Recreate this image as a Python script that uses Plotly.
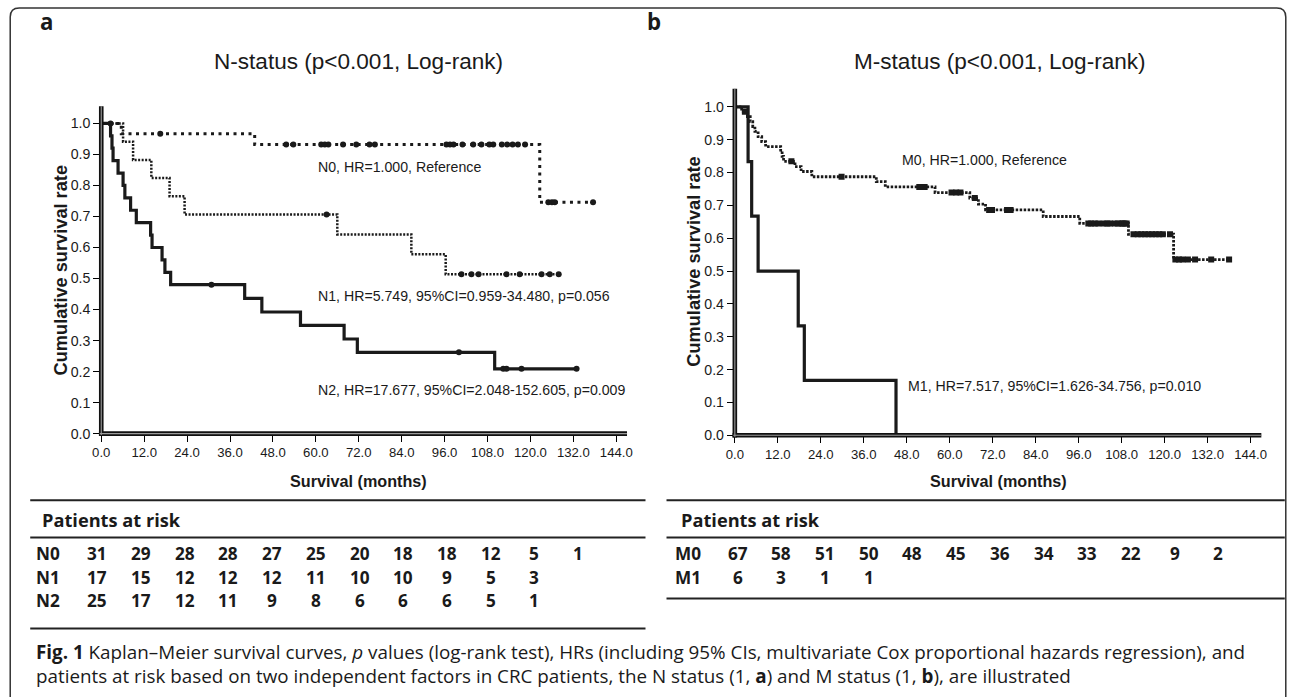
import numpy as np
import plotly.graph_objects as go

# The photographed viewport is slightly taller than the requested picture,
# so build the page at that size and place everything in reference pixels.
OUT_W, OUT_H = 1292, 697
W, H = 1292, 705
SC = OUT_H / 705.5
PAD = (OUT_W - OUT_W * SC) / 2

# ---------------- data ----------------
month_ticks = [0, 12, 24, 36, 48, 60, 72, 84, 96, 108, 120, 132, 144]
surv_ticks = [0.0, 0.1, 0.2, 0.3, 0.4, 0.5, 0.6, 0.7, 0.8, 0.9, 1.0]

# N-status curves (step times / survival)
n0_time = [0, 5.6, 42.9, 122.6, 137.5]
n0_surv = [1.0, 0.967, 0.932, 0.746, 0.746]
n0_cens = [2.6, 16.5, 51.7, 53.7, 61.5, 62.5, 63.5, 67.6, 71.3, 75.0, 76.5,
           96.5, 97.5, 98.5, 101.0, 104.0, 106.3, 108.5, 109.6, 112.0, 113.5,
           115.0, 116.5, 118.5, 125.0, 126.0, 126.8, 137.5]

n1_time = [0, 6.1, 8.9, 14.0, 19.1, 23.3, 66.0, 86.7, 96.3, 127.9]
n1_surv = [1.0, 0.941, 0.882, 0.824, 0.765, 0.706, 0.642, 0.578, 0.514, 0.514]
n1_cens = [63.0, 100.7, 103.5, 105.5, 113.3, 117.0, 123.1, 125.4, 127.9]

n2_time = [0, 2.6, 3.0, 3.3, 4.7, 6.1, 6.6, 8.2, 9.8, 13.8, 14.2, 17.0, 17.8,
           19.4, 40.1, 44.9, 55.7, 67.9, 71.6, 110.0, 132.9]
n2_surv = [1.0, 0.96, 0.92, 0.88, 0.84, 0.80, 0.76, 0.72, 0.68, 0.64, 0.60,
           0.56, 0.52, 0.48, 0.436, 0.392, 0.349, 0.305, 0.262, 0.209, 0.209]
n2_cens = [30.8, 100.0, 112.4, 113.3, 117.5, 132.9]

# M-status curves
m0_time = [0, 1.9, 3.5, 4.3, 5.0, 5.6, 6.5, 7.5, 8.6, 12.8, 13.2, 13.6, 16.8,
           18.5, 21.5, 39.5, 42.0, 55.9, 65.6, 68.0, 70.0, 86.1, 96.3, 109.9,
           122.5, 138.0]
m0_surv = [1.0, 0.985, 0.970, 0.955, 0.940, 0.925, 0.909, 0.894, 0.879, 0.864,
           0.849, 0.834, 0.818, 0.803, 0.787, 0.772, 0.756, 0.739, 0.722, 0.704,
           0.686, 0.666, 0.645, 0.612, 0.535, 0.535]
m0_cens = [2.8, 15.8, 29.8, 51.5, 53.0, 60.5, 61.8, 63.0, 67.0, 71.0, 71.8,
           76.0, 77.0, 98.7, 99.5, 100.5, 101.5, 103.0, 104.0, 104.7, 106.1,
           107.0, 107.9, 108.3, 108.8, 109.4, 111.3, 112.5, 113.5, 114.5, 115.5,
           116.5, 117.5, 118.5, 119.5, 121.5, 123.0, 124.0, 125.0, 126.5, 128.5,
           133.0, 138.0]

m1_time = [0, 3.7, 4.7, 6.5, 17.7, 19.4, 45.0]
m1_surv = [1.0, 0.833, 0.667, 0.5, 0.333, 0.167, 0.0]

# patients at risk
n_groups = ["N0", "N1", "N2"]
n0_risk = [31, 29, 28, 28, 27, 25, 20, 18, 18, 12, 5, 1]
n1_risk = [17, 15, 12, 12, 12, 11, 10, 10, 9, 5, 3]
n2_risk = [25, 17, 12, 11, 9, 8, 6, 6, 6, 5, 1]
m_groups = ["M0", "M1"]
m0_risk = [67, 58, 51, 50, 48, 45, 36, 34, 33, 22, 9, 2]
m1_risk = [6, 3, 1, 1]

n_labels = ["N0, HR=1.000, Reference",
            "N1, HR=5.749, 95%CI=0.959-34.480, p=0.056",
            "N2, HR=17.677, 95%CI=2.048-152.605, p=0.009"]
m_labels = ["M0, HR=1.000, Reference",
            "M1, HR=7.517, 95%CI=1.626-34.756, p=0.010"]

caption_lines = [
    "<b>Fig. 1</b> Kaplan–Meier survival curves, <i>p</i> values (log-rank "
    "test), HRs (including 95% CIs, multivariate Cox proportional hazards "
    "regression), and",
    "patients at risk based on two independent factors in CRC patients, the "
    "N status (1, <b>a</b>) and M status (1, <b>b</b>), are illustrated",
]

# ---------------- helpers ----------------
def px(x):
    """reference pixel x -> paper fraction"""
    return ((x - PAD) / SC) / W


def py(y):
    """reference pixel y -> paper fraction"""
    return 1 - (y / SC) / H


def fs(size):
    return size / SC


def step_lookup(times, survs, t):
    i = np.searchsorted(np.array(times), t, side="right") - 1
    return survs[max(i, 0)]


ARIAL = "Arial, Liberation Sans, sans-serif"
SANS = "Open Sans, Noto Sans, sans-serif"
INK = "#1a1a1a"

# panel geometry (reference pixels)
XMAX, YMAX = 147.0, 1.055
L = dict(x0=100.0, x1=100.0 + XMAX * 3.575, y0=433.3, y1=433.3 - YMAX * 310.0)
R = dict(x0=733.3, x1=733.3 + XMAX * 3.58, y0=435.0, y1=435.0 - YMAX * 328.3)

fig = go.Figure()


def add_curve(times, survs, xa, ya, dash, width):
    fig.add_trace(go.Scatter(x=times, y=survs, mode="lines", line_shape="hv",
                             line=dict(color=INK, width=width, dash=dash),
                             xaxis=xa, yaxis=ya, hoverinfo="skip",
                             showlegend=False))


def add_cens(times, survs, cens, xa, ya, symbol, size):
    ys = [step_lookup(times, survs, c) for c in cens]
    fig.add_trace(go.Scatter(x=cens, y=ys, mode="markers",
                             marker=dict(color=INK, size=size, symbol=symbol,
                                         line=dict(width=0)),
                             xaxis=xa, yaxis=ya, hoverinfo="skip",
                             showlegend=False))


# left panel
add_curve(n0_time, n0_surv, "x", "y", "3px,4.5px", 3)
add_curve(n1_time, n1_surv, "x", "y", "2px,1.5px", 2.5)
add_curve(n2_time, n2_surv, "x", "y", "solid", 3.2)
add_cens(n0_time, n0_surv, n0_cens, "x", "y", "circle", 6)
add_cens(n1_time, n1_surv, n1_cens, "x", "y", "circle", 6)
add_cens(n2_time, n2_surv, n2_cens, "x", "y", "circle", 6)

# right panel
add_curve(m0_time, m0_surv, "x2", "y2", "2.5px,1.5px", 2.8)
add_curve(m1_time, m1_surv, "x2", "y2", "solid", 3.2)
add_cens(m0_time, m0_surv, m0_cens, "x2", "y2", "square", 6)

xtick_text = ["%.1f" % v for v in month_ticks]
ytick_text = ["%.1f" % v for v in surv_ticks]

common_x = dict(range=[0, XMAX], tickmode="array", tickvals=month_ticks,
                ticktext=xtick_text, ticks="outside", ticklen=7, tickwidth=1,
                tickcolor="black", showgrid=False, zeroline=False,
                showline=False,
                tickfont=dict(family=ARIAL, size=fs(13), color=INK))
common_y = dict(range=[0, YMAX], tickmode="array", tickvals=surv_ticks,
                ticktext=ytick_text, ticks="outside", ticklen=7, tickwidth=1,
                tickcolor="black", showgrid=False, zeroline=False,
                showline=False,
                tickfont=dict(family=ARIAL, size=fs(14), color=INK))

fig.update_layout(
    width=W, height=H, autosize=False,
    margin=dict(l=0, r=0, t=0, b=0),
    paper_bgcolor="white", plot_bgcolor="white",
    xaxis=dict(domain=[px(L["x0"]), px(L["x1"])], anchor="y", **common_x),
    yaxis=dict(domain=[py(L["y0"]), py(L["y1"])], anchor="x", **common_y),
    xaxis2=dict(domain=[px(R["x0"]), px(R["x1"])], anchor="y2", **common_x),
    yaxis2=dict(domain=[py(R["y0"]), py(R["y1"])], anchor="x2", **common_y),
)

shapes = []


def line(x0, y0, x1, y1, color, width):
    shapes.append(dict(type="line", xref="paper", yref="paper",
                       x0=px(x0), y0=py(y0), x1=px(x1), y1=py(y1),
                       line=dict(color=color, width=width)))


# double axis lines
for P in (L, R):
    line(P["x0"], P["y0"] + 2.3, P["x0"], P["y1"], "#111", 4.6)
    line(P["x0"] - 2.3, P["y0"], P["x1"], P["y0"], "#111", 4.6)
    line(P["x0"], P["y0"] + 1.5, P["x0"], P["y1"], "#9a9a9a", 1.1)
    line(P["x0"] - 1.5, P["y0"], P["x1"], P["y0"], "#9a9a9a", 1.1)

# table rules
for yy in (500, 537, 628):
    line(29, yy, 644, yy, "#222", 2)
for yy in (500, 537, 598):
    line(665, yy, 1283, yy, "#222", 2)

# outer rounded frame (open at the bottom edge)
r = 9
bottom = 0.0
path = ("M %f,%f L %f,%f Q %f,%f %f,%f L %f,%f Q %f,%f %f,%f L %f,%f" % (
    px(9), bottom, px(9), py(8 + r), px(9), py(8), px(9 + r), py(8),
    px(1284 - r), py(8), px(1284), py(8), px(1284), py(8 + r),
    px(1284), bottom))
shapes.append(dict(type="path", xref="paper", yref="paper", path=path,
                   line=dict(color="#333", width=1.5)))

fig.update_layout(shapes=shapes)

ann = []


def text(x, y, s, size, family=ARIAL, bold=False, xanchor="center",
         angle=0, color=INK, align="center"):
    ann.append(dict(x=px(x), y=py(y), xref="paper", yref="paper", text=s,
                    showarrow=False, xanchor=xanchor, yanchor="middle",
                    textangle=angle, align=align,
                    font=dict(family=family, size=fs(size), color=color,
                              weight="bold" if bold else "normal")))


# panel letters and titles
text(45, 21, "a", 22, family=SANS, bold=True)
text(652, 21, "b", 22, family=SANS, bold=True)
text(357, 61, "N-status (p<0.001, Log-rank)", 22.3)
text(998, 61, "M-status (p<0.001, Log-rank)", 22.3)

# axis titles
text(60, 270, "Cumulative survival rate", 18, bold=True, angle=-90)
text(693, 262, "Cumulative survival rate", 18, bold=True, angle=-90)
text(357, 481, "Survival (months)", 16, bold=True)
text(997, 481, "Survival (months)", 16, bold=True)

# in-plot labels
text(315, 167, n_labels[0], 14, xanchor="left")
text(315, 296, n_labels[1], 14, xanchor="left")
text(315, 390, n_labels[2], 14, xanchor="left")
text(898, 160, m_labels[0], 14, xanchor="left")
text(904, 386, m_labels[1], 14, xanchor="left")

# patients at risk tables
text(39, 520, "Patients at risk", 18, family=SANS, bold=True, xanchor="left")
text(677, 520, "Patients at risk", 18, family=SANS, bold=True, xanchor="left")

COL = 43.7
for row_y, name, vals in zip((553, 577, 600), n_groups,
                             (n0_risk, n1_risk, n2_risk)):
    text(47, row_y, name, 17, family=SANS, bold=True)
    for i, v in enumerate(vals):
        text(96 + COL * i, row_y, str(v), 17, family=SANS, bold=True)
for row_y, name, vals in zip((553, 577), m_groups, (m0_risk, m1_risk)):
    text(686, row_y, name, 17, family=SANS, bold=True)
    for i, v in enumerate(vals):
        text(736 + COL * i, row_y, str(v), 17, family=SANS, bold=True)

# caption (two lines in one block)
text(33, 664, "<br>".join(caption_lines), 18.6, family=SANS,
     xanchor="left", align="left")

fig.update_layout(annotations=ann)

post = ("document.documentElement.style.margin='0';"
        "document.body.style.margin='0';"
        "document.body.style.overflow='hidden';"
        "document.documentElement.style.overflow='hidden';")

fig.write_html("out.html", config={"displayModeBar": False},
               post_script=post)
